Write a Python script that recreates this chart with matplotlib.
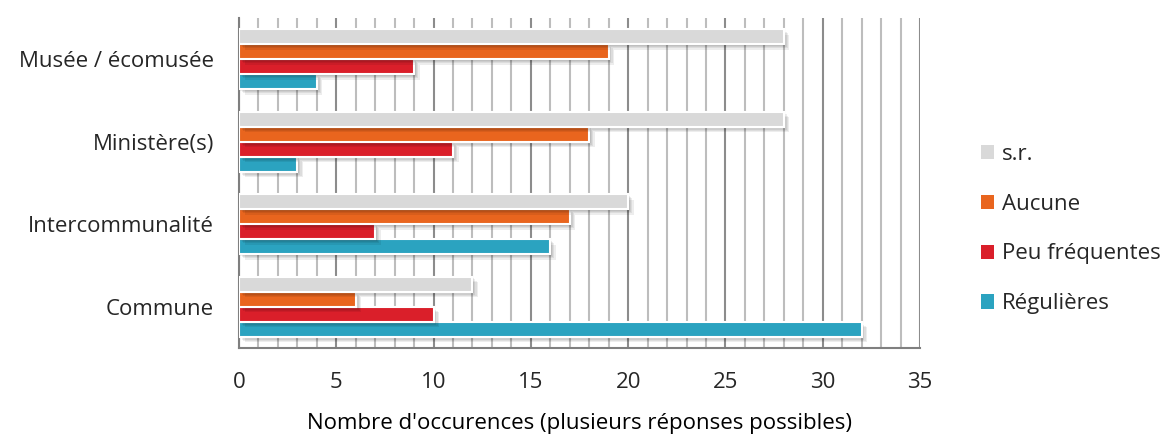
import matplotlib
matplotlib.use("Agg")
import numpy as np
from matplotlib import pyplot as plt
from matplotlib import patheffects as pe
from matplotlib.ticker import MultipleLocator

categories = ["Commune", "Intercommunalité", "Ministère(s)", "Musée / écomusée"]
series = ["Régulières", "Peu fréquentes", "Aucune", "s.r."]
regulieres = [32, 16, 3, 4]
peu_frequentes = [10, 7, 11, 9]
aucune = [6, 17, 18, 19]
sr = [12, 20, 28, 28]
colors = ["#2ba3c0", "#da1f2a", "#e9651e", "#d9d9d9"]
xticks = [0, 5, 10, 15, 20, 25, 30, 35]

plt.rcParams['font.family'] = ['Open Sans', 'DejaVu Sans']

fig = plt.figure(figsize=(11.62, 4.34), dpi=100)
ax = fig.add_axes([239 / 1162, 1 - 348 / 434, (920 - 239) / 1162, 330 / 434])

values = [regulieres, peu_frequentes, aucune, sr]
y = np.arange(len(categories))
h = 0.182
offsets = [-1.5 * h, -0.5 * h, 0.5 * h, 1.5 * h]
# soft drop shadow: a few stacked faint shadows
shadow = [pe.SimplePatchShadow(offset=(d, -d), shadow_rgbFace='k', alpha=0.07)
          for d in (4, 3, 2, 1)] + [pe.Normal()]
handles = []
for vals, off, c, name in zip(values, offsets, colors, series):
    bars = ax.barh(y + off, vals, height=h, color=c, edgecolor='white',
                   linewidth=1.5, label=name, zorder=3)
    for b in bars:
        b.set_path_effects(shadow)
    handles.append(bars)

ax.set_xlim(0, 35)
ax.set_ylim(-0.5, 3.5)
ax.set_yticks(y)
ax.set_yticklabels(categories, fontsize=16, color='#262626')
ax.set_xticks(xticks)
ax.set_xticklabels([str(t) for t in xticks], fontsize=16, color='#262626')
ax.xaxis.set_minor_locator(MultipleLocator(1))
ax.tick_params(axis='both', which='both', length=0)
ax.tick_params(axis='x', pad=17)
ax.tick_params(axis='y', pad=18)
ax.grid(axis='x', which='minor', color='#bdbdbd', linewidth=1.5, zorder=0)
ax.grid(axis='x', which='major', color='#8c8c8c', linewidth=1.5, zorder=0)
for s in ['top', 'right']:
    ax.spines[s].set_visible(False)
for s in ['left', 'bottom']:
    ax.spines[s].set_color('#7f7f7f')
    ax.spines[s].set_linewidth(1.5)

ax.set_xlabel("Nombre d'occurences (plusieurs réponses possibles)", fontsize=16,
              color='#000000', labelpad=15)

leg = fig.legend(handles[::-1], series[::-1], loc='center left',
                 bbox_to_anchor=(970 / 1162, 1 - 229 / 434), frameon=False,
                 fontsize=16, handlelength=0.6, handleheight=0.6,
                 labelspacing=1.3, handletextpad=0.35, borderpad=0)
for t in leg.get_texts():
    t.set_color('#262626')
for p in leg.get_patches():
    p.set_path_effects([])
    p.set_linewidth(0)

fig.savefig("out.png", dpi=100)
